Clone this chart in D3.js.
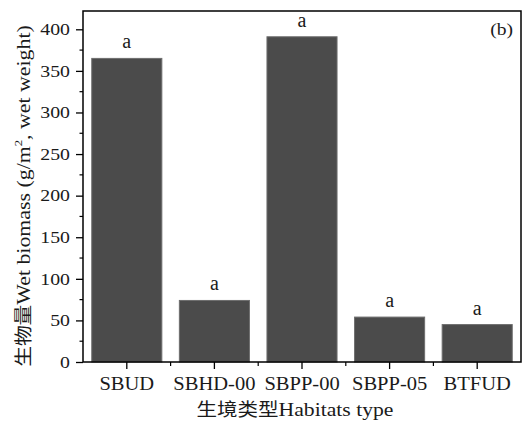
<!DOCTYPE html>
<html>
<head>
<meta charset="utf-8">
<script src="https://cdn.jsdelivr.net/npm/d3@7"></script>
<style>
  body { margin: 0; background: #fff; }
  text { font-family: "Liberation Serif", "Times New Roman", serif; fill: #1a1a1a; }
  .cjk { font-family: "Noto Sans CJK SC", sans-serif; }
</style>
</head>
<body>
<div id="chart"></div>
<script>
const categories = ['SBUD', 'SBHD-00', 'SBPP-00', 'SBPP-05', 'BTFUD'];
const biomass = [365, 74, 391, 54, 45];
const letters = ['a', 'a', 'a', 'a', 'a'];
const yTicks = [0, 50, 100, 150, 200, 250, 300, 350, 400];
const yMinorTicks = [25, 75, 125, 175, 225, 275, 325, 375];
const yMax = 422;
const panelLabel = '(b)';

class BarChart {
  constructor(opts) {
    this.element = opts.element;
    this.draw();
  }

  draw() {
    this.width = 529;
    this.height = 423;
    this.margin = { top: 11, right: 8, bottom: 61, left: 83 };

    this.svg = d3.select(this.element).append('svg')
      .attr('width', this.width)
      .attr('height', this.height);

    this.createScales();
    this.addBars();
    this.addAxes();
    this.addLabels();
  }

  createScales() {
    const m = this.margin;
    this.xScale = d3.scaleBand()
      .domain(categories)
      .range([m.left, this.width - m.right])
      .paddingInner(0.2)
      .paddingOuter(0.1);

    this.yScale = d3.scaleLinear()
      .domain([0, yMax])
      .range([this.height - m.bottom, m.top]);
  }

  // widen glyphs a bit, the source font is broader than Times
  stretch(sel, k) {
    sel.each(function() {
      const l = this.getComputedTextLength();
      d3.select(this).attr('textLength', l * k).attr('lengthAdjust', 'spacingAndGlyphs');
    });
  }

  addBars() {
    const x = this.xScale, y = this.yScale;
    this.svg.append('g').selectAll('rect')
      .data(categories)
      .join('rect')
      .attr('x', d => x(d))
      .attr('width', x.bandwidth())
      .attr('y', (d, i) => y(biomass[i]))
      .attr('height', (d, i) => y(0) - y(biomass[i]))
      .attr('fill', '#4b4b4b')
      .attr('stroke', '#6e6e6e')
      .attr('stroke-width', 1);
  }

  addAxes() {
    const x = this.xScale, y = this.yScale;
    const [x0, x1] = x.range();
    const [yb, yt] = y.range();

    const yAxis = d3.axisLeft(y).tickValues(yTicks).tickSize(7).tickPadding(6);
    const gy = this.svg.append('g')
      .attr('transform', `translate(${x0},0)`)
      .call(yAxis);
    gy.select('.domain').remove();
    gy.selectAll('line').attr('stroke-width', 1.3);
    gy.selectAll('text').attr('font-size', 16.5).attr('font-family', '"Liberation Serif", serif');
    this.stretch(gy.selectAll('text'), 1.2);

    gy.selectAll('.minor')
      .data(yMinorTicks)
      .join('line')
      .attr('class', 'minor')
      .attr('x1', -3.5).attr('x2', 0)
      .attr('y1', d => y(d)).attr('y2', d => y(d))
      .attr('stroke', '#000').attr('stroke-width', 1.2);

    const xAxis = d3.axisBottom(x).tickSize(7).tickPadding(8);
    const gx = this.svg.append('g')
      .attr('transform', `translate(0,${yb})`)
      .call(xAxis);
    gx.select('.domain').remove();
    gx.selectAll('line').attr('stroke-width', 1.3);
    gx.selectAll('text').attr('font-size', 19).attr('font-family', '"Liberation Serif", serif');
    this.stretch(gx.selectAll('text'), 1.08);

    const mids = categories.slice(1).map(c => x(c) - x.step() * x.paddingInner() / 2);
    gx.selectAll('.minor')
      .data(mids)
      .join('line')
      .attr('class', 'minor')
      .attr('x1', d => d).attr('x2', d => d)
      .attr('y1', 0).attr('y2', 4)
      .attr('stroke', '#000').attr('stroke-width', 1.2);

    // frame
    this.svg.append('rect')
      .attr('x', x0).attr('y', yt)
      .attr('width', x1 - x0).attr('height', yb - yt)
      .attr('fill', 'none')
      .attr('stroke', '#000')
      .attr('stroke-width', 1.5);
  }

  addLabels() {
    const x = this.xScale, y = this.yScale;

    this.svg.append('g').selectAll('text')
      .data(categories)
      .join('text')
      .attr('x', d => x(d) + x.bandwidth() / 2)
      .attr('y', (d, i) => y(biomass[i]) - 10)
      .attr('text-anchor', 'middle')
      .attr('font-size', 20)
      .text((d, i) => letters[i]);

    const pl = this.svg.append('text')
      .attr('x', x.range()[1] - 8)
      .attr('y', 35)
      .attr('text-anchor', 'end')
      .attr('font-size', 17)
      .text(panelLabel);
    this.stretch(pl, 1.15);

    const xt = this.svg.append('text')
      .attr('x', 295)
      .attr('y', 416)
      .attr('text-anchor', 'middle')
      .attr('font-size', 19);
    xt.append('tspan').attr('class', 'cjk').attr('font-size', 18).text('生境类型');
    xt.append('tspan').text('Habitats type');
    this.stretch(xt, 1.14);

    const yt = this.svg.append('text')
      .attr('transform', 'translate(30,196) rotate(-90)')
      .attr('text-anchor', 'middle')
      .attr('font-size', 19);
    yt.append('tspan').attr('class', 'cjk').attr('font-size', 18).text('生物量');
    yt.append('tspan').text('Wet biomass (g/m');
    yt.append('tspan').attr('font-size', 11).attr('dy', -8).text('2');
    yt.append('tspan').attr('dy', 8).text(', wet weight)');
    this.stretch(yt, 1.15);
  }
}

new BarChart({ element: document.getElementById('chart') });
</script>
</body>
</html>
